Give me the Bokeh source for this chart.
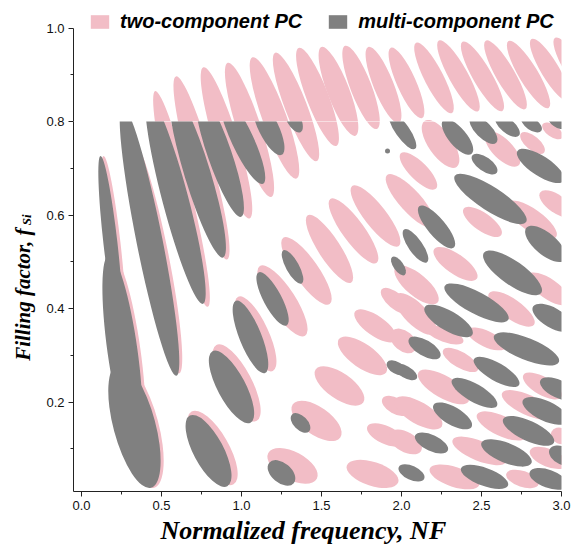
from math import pi
from bokeh.plotting import figure
from bokeh.layouts import column, row
from bokeh.models import (ColumnDataSource, Label, Legend, LegendItem, Title,
                          FixedTicker, Range1d, PrintfTickFormatter)
from bokeh.embed import file_html
from bokeh.resources import INLINE

PINK = "#F2BDC6"
GRAY = "#808080"
NAN = float("nan")

# ---- data: band-gap regions approximated as tilted ellipses ----
# centre (NF, f_Si), major/minor extent, tilt (deg)
two_nf = [0.2, 0.275, 0.35, 0.4625, 0.625, 0.75, 0.906, 1.05, 1.206, 1.3406, 1.475,
          1.606, 1.747, 1.8875, 2.031, 2.203, 2.356, 2.506, 2.65, 2.794, 2.928, 3.069,
          1.55, 1.7, 1.8375, 1.406, 1.256, 1.0875, 0.969, 0.819, 2.056, 2.106,
          1.469, 1.6125, 1.756, 1.319, 1.819, 1.9, 1.9625, 1.8375, 1.9625,
          2.244, 2.631, 2.819, 2.944,
          2.506, 2.8125, 2.094, 2.3375, 2.0875, 2.6875, 2.919, 2.969,
          2.0125, 2.269, 2.531, 2.369, 2.2625, 2.881, 2.106, 2.7875, 2.625, 2.025,
          2.4875, 2.919, 2.331, 2.756, 2.994]
two_f = [0.5393, 0.3093, 0.1489, 0.5125, 0.6344, 0.7007, 0.7542, 0.782, 0.8077, 0.8312, 0.8526,
         0.8644, 0.873, 0.8783, 0.8826, 0.8933, 0.8976, 0.8965, 0.8997, 0.9005, 0.9104, 0.9168,
         0.5275, 0.566, 0.598, 0.4804, 0.4163, 0.3457, 0.2409, 0.1018, 0.63, 0.6943,
         0.1596, 0.2344, 0.2986, 0.0633, 0.0462, 0.1296, 0.1917, 0.3628, 0.4163,
         0.752, 0.741, 0.754, 0.78,
         0.5852, 0.5895, 0.4505, 0.4954, 0.3884, 0.3991, 0.4419, 0.6237,
         0.3307, 0.3435, 0.335, 0.29, 0.2323, 0.2344, 0.1767, 0.1938, 0.1489, 0.1147,
         0.0954, 0.0804, 0.0398, 0.0355, 0.1275]
two_len = [176, 194, 128, 240, 222, 190, 158, 141, 129, 116, 105,
           95, 89, 82, 77, 79, 81, 80, 79, 78, 72, 68,
           80, 79, 76, 81, 83, 82, 86, 84, 70, 50,
           58, 58, 58, 55, 54, 40, 30, 50, 36,
           56, 46, 30, 24,
           46, 60, 55, 52, 55, 55, 50, 40,
           30, 40, 42, 40, 58, 44, 54, 56, 54, 36,
           58, 40, 52, 34, 20]
two_wid = [14, 30, 42, 26, 22, 24, 24, 24, 24, 22, 22,
           22, 21, 20, 19, 19, 19, 19, 19, 19, 18, 18,
           22, 22, 22, 24, 26, 26, 30, 32, 22, 18,
           28, 26, 24, 28, 24, 18, 16, 20, 16,
           24, 20, 14, 12,
           18, 22, 22, 20, 22, 20, 20, 18,
           20, 14, 16, 16, 22, 18, 22, 20, 20, 20,
           20, 18, 20, 16, 16]
two_ang = [96.5, 98, 105, 101.3, 103.7, 105.6, 107, 108, 110, 111, 111,
           111, 111, 112, 114, 117, 119, 120, 120, 121, 121, 121,
           -57, -54, -52, -55, -57, -65, -62, -60, -48, -45,
           -35, -35, -35, -28, -18, -25, -30, -35, -40,
           -55, -45, -40, -35,
           -35, -35, -40, -35, -45, -35, -35, -35,
           -40, -20, -25, -30, -30, -30, -30, -25, -25, -30,
           -22, -22, -18, -18, -25]

multi_nf = [0.181, 0.256, 0.331, 0.425, 0.5875, 0.725, 0.8625, 1.006, 1.169, 1.325,
            1.319, 1.194, 1.056, 0.9375, 0.794, 1.369, 1.25, 1.969, 1.9125,
            2.006, 2.35, 2.5125, 2.6625, 2.8125, 2.969, 2.869, 2.519,
            2.556, 2.219, 2.0875, 2.694, 2.9, 2.469, 2.294, 2.944, 1.981,
            2.144, 2.781, 2.025, 2.594, 2.981, 2.456, 2.9, 2.319, 2.794, 2.1875,
            2.656, 3.01, 2.0625, 2.519, 2.919]
multi_f = [0.5393, 0.3093, 0.1489, 0.5446, 0.6323, 0.688, 0.7307, 0.7607, 0.7863, 0.8056,
           0.489, 0.4205, 0.3393, 0.2323, 0.0954, 0.1553, 0.0483, 0.2729, 0.737,
           0.78, 0.767, 0.782, 0.7905, 0.7947, 0.799, 0.705, 0.709,
           0.6344, 0.5745, 0.5339, 0.4761, 0.5382, 0.412, 0.3735, 0.38, 0.491,
           0.3157, 0.3136, 0.2644, 0.2644, 0.228, 0.2195, 0.181, 0.1703, 0.1382, 0.1125,
           0.0911, 0.0848, 0.0483, 0.0398, 0.0355]
multi_len = [176, 194, 128, 275, 215, 175, 133, 97, 60, 30,
             38, 60, 78, 81, 80, 24, 32, 22, 5,
             44, 44, 36, 30, 24, 20, 55, 30,
             85, 54, 40, 70, 50, 72, 55, 45, 22,
             36, 70, 26, 52, 40, 52, 50, 44, 56, 36,
             54, 30, 28, 50, 40]
multi_wid = [14, 30, 42, 26, 26, 26, 24, 22, 20, 14,
             13, 18, 22, 28, 30, 14, 20, 12, 5,
             14, 18, 16, 14, 12, 10, 20, 14,
             24, 18, 14, 24, 22, 22, 20, 20, 10,
             16, 22, 12, 18, 18, 18, 20, 18, 20, 16,
             20, 18, 14, 18, 18]
multi_ang = [96.5, 98, 105, 101.3, 104.8, 107, 109, 115, 116, 118,
             -61, -62, -68, -62, -62, -45, -40, -30, 0,
             -55, -50, -45, -40, -35, -35, -33, -35,
             -33, -50, -55, -35, -40, -28, -30, -30, -55,
             -30, -22, -30, -30, -25, -30, -25, -30, -25, -25,
             -22, -25, -25, -20, -20]

legend_labels = ["two-component PC", "multi-component PC"]
x_title = "Normalized frequency, NF"
y_title = "Filling factor, f"
y_title_sub = "Si"
x_major = [0.0, 0.5, 1.0, 1.5, 2.0, 2.5, 3.0]
x_minor = [0.25, 0.75, 1.25, 1.75, 2.25, 2.75]
y_major_low = [0.2, 0.4, 0.6, 0.8]
y_minor_low = [0.1, 0.3, 0.5, 0.7]
y_major_high = [0.8, 1.0]
y_minor_high = [0.9]
y_tick_labels = [0.2, 0.4, 0.6, 0.8, 1.0]

# ---- layout constants (pixels) ----
PX_X = 160.0
PX_Y = 467.5
X0, X1 = -0.05, 3.0
SPLIT = 0.8
TOP_H = 121
BOT_H = 370
BOT_B = 56
STRIP_W = 68
AX_W = 5

pink_src = ColumnDataSource(dict(x=two_nf, y=two_f, w=two_len, h=two_wid, a=two_ang))
gray_src = ColumnDataSource(dict(x=multi_nf, y=multi_f, w=multi_len, h=multi_wid, a=multi_ang))


def style_axis(ax):
    ax.axis_line_color = "#222222"
    ax.axis_line_width = 1
    ax.major_tick_line_color = "#222222"
    ax.minor_tick_line_color = "#222222"
    ax.major_tick_in = 0
    ax.major_tick_out = 5
    ax.minor_tick_in = 0
    ax.minor_tick_out = 3
    ax.major_label_text_font = "Liberation Sans"
    ax.major_label_text_font_size = "13px"
    ax.major_label_text_color = "#111111"
    ax.formatter = PrintfTickFormatter(format="%.1f")


def make_fig(y0, y1, fh, xaxis):
    p = figure(frame_width=int((X1 - X0) * PX_X), frame_height=fh,
               min_border_left=AX_W, min_border_right=571 - STRIP_W - AX_W - int((X1 - X0) * PX_X),
               min_border_top=0, min_border_bottom=(BOT_B if xaxis else 0),
               x_range=Range1d(X0, X1), y_range=Range1d(y0, y1),
               x_axis_location=("below" if xaxis else None),
               output_backend="svg", toolbar_location=None)
    p.grid.visible = False
    p.outline_line_color = None
    p.background_fill_color = "white"
    p.border_fill_color = "white"
    return p


top = make_fig(SPLIT, SPLIT + TOP_H / PX_Y, TOP_H, False)
bot = make_fig(SPLIT - BOT_H / PX_Y, SPLIT, BOT_H, True)

for p in (top, bot):
    p.ellipse(x="x", y="y", width="w", height="h", angle="a", angle_units="deg",
              width_units="screen", height_units="screen", source=pink_src,
              fill_color=PINK, line_color=None)
bot.ellipse(x="x", y="y", width="w", height="h", angle="a", angle_units="deg",
            width_units="screen", height_units="screen", source=gray_src,
            fill_color=GRAY, line_color=None)

# axes (y tick labels are drawn in the left strip)
for p, maj, mnr in ((top, y_major_high, y_minor_high), (bot, y_major_low, y_minor_low)):
    ax = p.yaxis[0]
    style_axis(ax)
    ax.ticker = FixedTicker(ticks=maj, minor_ticks=mnr)
    ax.major_label_overrides = {v: "" for v in maj}
    ax.major_label_standoff = 0
top.yaxis[0].bounds = (SPLIT, 1.0)

style_axis(bot.xaxis[0])
bot.xaxis[0].ticker = FixedTicker(ticks=x_major, minor_ticks=x_minor)
bot.xaxis[0].major_label_standoff = 4

bot.add_layout(Title(text=x_title, align="left", offset=87, standoff=3,
                     text_font="Liberation Serif", text_font_style="bold italic",
                     text_font_size="26px", text_color="black"), "below")

# legend
r1 = top.quad(left=[NAN], right=[NAN], top=[NAN], bottom=[NAN], fill_color=PINK, line_color=None)
r2 = top.quad(left=[NAN], right=[NAN], top=[NAN], bottom=[NAN], fill_color=GRAY, line_color=None)
legend = Legend(items=[LegendItem(label=legend_labels[0], renderers=[r1]),
                       LegendItem(label=legend_labels[1], renderers=[r2])],
                orientation="horizontal", location=(15, 88),
                glyph_width=23, glyph_height=17, label_standoff=9, spacing=24,
                padding=0, margin=0, border_line_color=None,
                background_fill_alpha=0,
                label_text_font="Liberation Sans",
                label_text_font_style="bold italic",
                label_text_font_size="20px", label_text_color="black")
top.add_layout(legend)

# left strip: y tick labels and y title
strip = figure(frame_width=STRIP_W, frame_height=TOP_H + BOT_H + BOT_B,
               min_border_left=0, min_border_right=0, min_border_top=0, min_border_bottom=0,
               x_range=Range1d(X0 - (STRIP_W + AX_W) / PX_X, X0 - AX_W / PX_X),
               y_range=Range1d(SPLIT - (BOT_H + BOT_B) / PX_Y, SPLIT + TOP_H / PX_Y),
               x_axis_location=None, y_axis_location=None,
               output_backend="svg", toolbar_location=None)
strip.grid.visible = False
strip.outline_line_color = None
for v in y_tick_labels:
    strip.add_layout(Label(x=X0 - 9 / PX_X, y=v, text="%.1f" % v,
                           text_align="right", text_baseline="middle",
                           text_font="Liberation Sans", text_font_size="13px",
                           text_color="#111111"))
strip.add_layout(Label(x=X0 - 51 / PX_X, y=0.288, angle=pi / 2, text=y_title,
                       text_align="left", text_baseline="alphabetic",
                       text_font="Liberation Serif", text_font_style="bold italic",
                       text_font_size="21px", text_color="black"))
strip.add_layout(Label(x=X0 - 47 / PX_X, y=0.578, angle=pi / 2, text=y_title_sub,
                       text_align="left", text_baseline="alphabetic",
                       text_font="Liberation Serif", text_font_style="bold italic",
                       text_font_size="13px", text_color="black"))

layout = row(strip, column(top, bot, spacing=0), spacing=0)
open("out.html", "w").write(file_html(layout, INLINE))
